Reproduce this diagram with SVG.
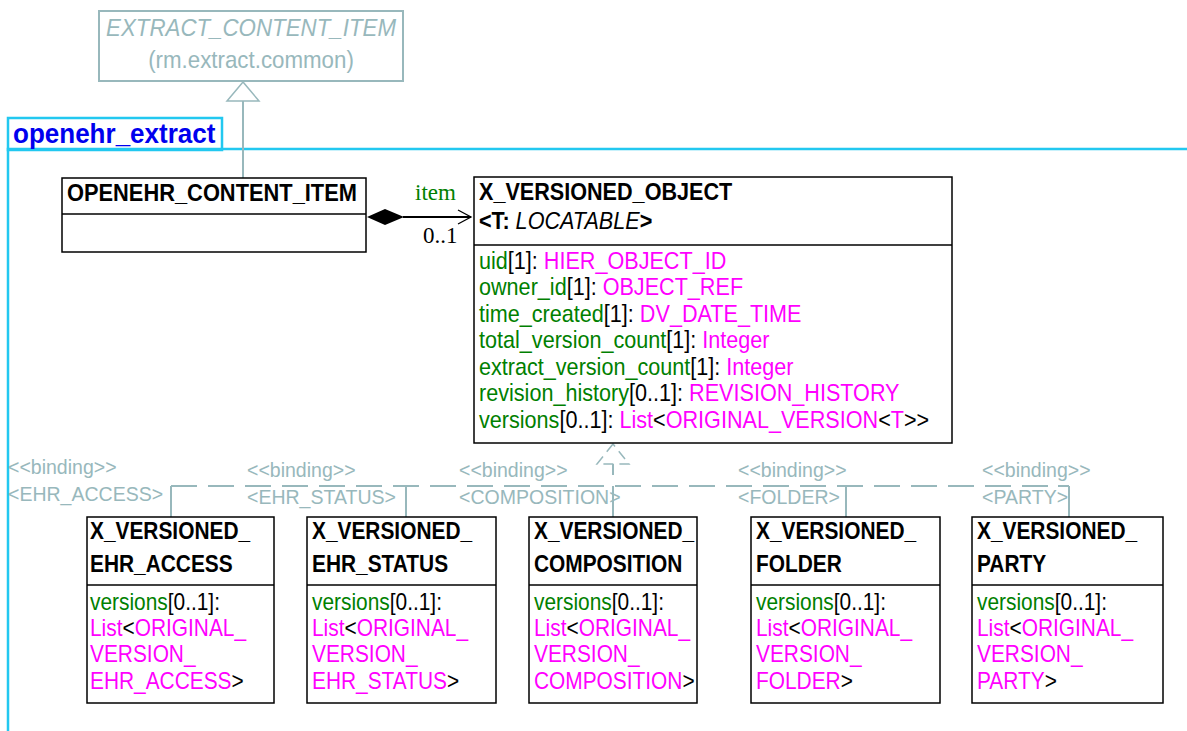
<svg xmlns="http://www.w3.org/2000/svg" width="1187" height="731" viewBox="0 0 1187 731">
<style>
.t{font-family:"Liberation Sans","Arial",sans-serif;}
.ttl{font-size:24px;font-weight:bold;fill:#000;}
.at{font-size:24px;fill:#000;}
.g{fill:#008000;}
.m{fill:#FF00FF;}
.box{fill:#fff;stroke:#000;stroke-width:1.5;}
.gray{fill:#98B8BC;}
.bind{font-size:21px;fill:#98B8BC;}
.dash{fill:none;stroke:#98B8BC;stroke-width:2;stroke-dasharray:26,11;}
.sol{fill:none;stroke:#98B8BC;stroke-width:2;}
.pkg{fill:none;stroke:#22C8F0;stroke-width:2.5;}
</style>

<g id="package">
  <rect class="pkg" x="8" y="118" width="214" height="32"/>
  <polyline class="pkg" points="1187,149 8,149 8,731"/>
  <g transform="translate(13,0) scale(0.93,1)">
    <text class="t" x="0" y="143" font-size="28" font-weight="bold" fill="#0000EE">openehr_extract</text>
  </g>
</g>

<g id="EXTRACT_CONTENT_ITEM">
  <rect x="99" y="11" width="304" height="70" fill="#fff" stroke="#98B8BC" stroke-width="2"/>
  <g transform="translate(251,0) scale(0.93,1)">
    <text class="t gray" x="0" y="36" font-size="24" font-style="italic" text-anchor="middle">EXTRACT_CONTENT_ITEM</text>
    <text class="t gray" x="0" y="68" font-size="24" text-anchor="middle">(rm.extract.common)</text>
  </g>
</g>

<g id="connectors">
  <!-- generalization -->
  <line class="sol" x1="243" y1="101" x2="243" y2="178"/>
  <polygon points="243,82 227,101 259,101" fill="#fff" stroke="#98B8BC" stroke-width="1.5"/>
  <!-- composition -->
  <line x1="403" y1="217" x2="471" y2="217" stroke="#000" stroke-width="2"/>
  <polygon points="367,217 385,209 404,217 385,225" fill="#000"/>
  <polyline points="458,210 471,217 458,224" fill="none" stroke="#000" stroke-width="1.3"/>
  <text x="415" y="200" font-family="Liberation Serif,serif" font-size="23" fill="#008000">item</text>
  <text x="423" y="243" font-family="Liberation Serif,serif" font-size="23" fill="#000">0..1</text>
  <!-- realization / binding -->
  <polygon points="613,444 597,464 629,464" fill="none" stroke="#98B8BC" stroke-width="1.5" stroke-dasharray="10,6"/>
  <line class="sol" x1="613" y1="464" x2="613" y2="475"/>
  <line class="dash" x1="171" y1="486" x2="1069" y2="486"/>
  <line class="sol" x1="171" y1="486" x2="171" y2="517"/>
  <line class="sol" x1="171" y1="486" x2="182" y2="486"/>
  <line class="sol" x1="406" y1="486" x2="406" y2="517"/>
  <line class="sol" x1="613" y1="486" x2="613" y2="517"/>
  <line class="sol" x1="846" y1="486" x2="846" y2="517"/>
  <line class="sol" x1="1069" y1="486" x2="1069" y2="517"/>
  <line class="sol" x1="1058" y1="486" x2="1069" y2="486"/>
  <g transform="translate(8,0) scale(0.93,1)">
    <text class="t bind" x="0" y="474">&lt;&lt;binding&gt;&gt;</text>
    <text class="t bind" x="0" y="501">&lt;EHR_ACCESS&gt;</text>
  </g>
  <g transform="translate(247,0) scale(0.93,1)">
    <text class="t bind" x="0" y="477">&lt;&lt;binding&gt;&gt;</text>
    <text class="t bind" x="0" y="504">&lt;EHR_STATUS&gt;</text>
  </g>
  <g transform="translate(459,0) scale(0.93,1)">
    <text class="t bind" x="0" y="477">&lt;&lt;binding&gt;&gt;</text>
    <text class="t bind" x="0" y="504">&lt;COMPOSITION&gt;</text>
  </g>
  <g transform="translate(738,0) scale(0.93,1)">
    <text class="t bind" x="0" y="477">&lt;&lt;binding&gt;&gt;</text>
    <text class="t bind" x="0" y="504">&lt;FOLDER&gt;</text>
  </g>
  <g transform="translate(982,0) scale(0.93,1)">
    <text class="t bind" x="0" y="477">&lt;&lt;binding&gt;&gt;</text>
    <text class="t bind" x="0" y="504">&lt;PARTY&gt;</text>
  </g>
</g>

<g id="OPENEHR_CONTENT_ITEM">
  <rect class="box" x="62" y="178" width="304" height="74"/>
  <line x1="62" y1="214" x2="366" y2="214" stroke="#000" stroke-width="1.5"/>
  <g transform="translate(67,0) scale(0.91,1)">
    <text class="t ttl" x="0" y="201">OPENEHR_CONTENT_ITEM</text>
  </g>
</g>

<g id="X_VERSIONED_OBJECT">
  <rect class="box" x="474" y="177" width="478" height="266"/>
  <line x1="474" y1="245" x2="952" y2="245" stroke="#000" stroke-width="1.5"/>
  <g transform="translate(479,0) scale(0.9,1)">
    <text class="t ttl" x="0" y="200">X_VERSIONED_OBJECT</text>
    <text class="t at" x="0" y="229"><tspan font-weight="bold">&lt;T:</tspan> <tspan font-style="italic">LOCATABLE</tspan><tspan font-weight="bold">&gt;</tspan></text>
    <text class="t at" x="0" y="269"><tspan class="g">uid</tspan>[1]: <tspan class="m">HIER_OBJECT_ID</tspan></text>
    <text class="t at" x="0" y="295"><tspan class="g">owner_id</tspan>[1]: <tspan class="m">OBJECT_REF</tspan></text>
    <text class="t at" x="0" y="322"><tspan class="g">time_created</tspan>[1]: <tspan class="m">DV_DATE_TIME</tspan></text>
    <text class="t at" x="0" y="348"><tspan class="g">total_version_count</tspan>[1]: <tspan class="m">Integer</tspan></text>
    <text class="t at" x="0" y="375"><tspan class="g">extract_version_count</tspan>[1]: <tspan class="m">Integer</tspan></text>
    <text class="t at" x="0" y="401"><tspan class="g">revision_history</tspan>[0..1]: <tspan class="m">REVISION_HISTORY</tspan></text>
    <text class="t at" x="0" y="428"><tspan class="g">versions</tspan>[0..1]: <tspan class="m">List</tspan>&lt;<tspan class="m">ORIGINAL_VERSION</tspan>&lt;<tspan class="m">T</tspan>&gt;&gt;</text>
  </g>
</g>

<g id="X_VERSIONED_EHR_ACCESS">
  <rect class="box" x="87" y="517" width="187" height="186"/>
  <line x1="87" y1="585" x2="274" y2="585" stroke="#000" stroke-width="1.5"/>
  <g transform="translate(90,0) scale(0.87,1)">
    <text class="t ttl" x="0" y="539">X_VERSIONED_</text>
    <text class="t ttl" x="0" y="572">EHR_ACCESS</text>
    <text class="t at" x="0" y="610"><tspan class="g">versions</tspan>[0..1]:</text>
    <text class="t at" x="0" y="636"><tspan class="m">List</tspan>&lt;<tspan class="m">ORIGINAL_</tspan></text>
    <text class="t at m" x="0" y="662">VERSION_</text>
    <text class="t at" x="0" y="689"><tspan class="m">EHR_ACCESS</tspan>&gt;</text>
  </g>
</g>

<g id="X_VERSIONED_EHR_STATUS">
  <rect class="box" x="307" y="517" width="189" height="186"/>
  <line x1="307" y1="585" x2="496" y2="585" stroke="#000" stroke-width="1.5"/>
  <g transform="translate(312,0) scale(0.87,1)">
    <text class="t ttl" x="0" y="539">X_VERSIONED_</text>
    <text class="t ttl" x="0" y="572">EHR_STATUS</text>
    <text class="t at" x="0" y="610"><tspan class="g">versions</tspan>[0..1]:</text>
    <text class="t at" x="0" y="636"><tspan class="m">List</tspan>&lt;<tspan class="m">ORIGINAL_</tspan></text>
    <text class="t at m" x="0" y="662">VERSION_</text>
    <text class="t at" x="0" y="689"><tspan class="m">EHR_STATUS</tspan>&gt;</text>
  </g>
</g>

<g id="X_VERSIONED_COMPOSITION">
  <rect class="box" x="529" y="517" width="168" height="186"/>
  <line x1="529" y1="585" x2="697" y2="585" stroke="#000" stroke-width="1.5"/>
  <g transform="translate(534,0) scale(0.87,1)">
    <text class="t ttl" x="0" y="539">X_VERSIONED_</text>
    <text class="t ttl" x="0" y="572">COMPOSITION</text>
    <text class="t at" x="0" y="610"><tspan class="g">versions</tspan>[0..1]:</text>
    <text class="t at" x="0" y="636"><tspan class="m">List</tspan>&lt;<tspan class="m">ORIGINAL_</tspan></text>
    <text class="t at m" x="0" y="662">VERSION_</text>
    <text class="t at" x="0" y="689"><tspan class="m">COMPOSITION</tspan>&gt;</text>
  </g>
</g>

<g id="X_VERSIONED_FOLDER">
  <rect class="box" x="751" y="517" width="189" height="186"/>
  <line x1="751" y1="585" x2="940" y2="585" stroke="#000" stroke-width="1.5"/>
  <g transform="translate(756,0) scale(0.87,1)">
    <text class="t ttl" x="0" y="539">X_VERSIONED_</text>
    <text class="t ttl" x="0" y="572">FOLDER</text>
    <text class="t at" x="0" y="610"><tspan class="g">versions</tspan>[0..1]:</text>
    <text class="t at" x="0" y="636"><tspan class="m">List</tspan>&lt;<tspan class="m">ORIGINAL_</tspan></text>
    <text class="t at m" x="0" y="662">VERSION_</text>
    <text class="t at" x="0" y="689"><tspan class="m">FOLDER</tspan>&gt;</text>
  </g>
</g>

<g id="X_VERSIONED_PARTY">
  <rect class="box" x="972" y="517" width="191" height="186"/>
  <line x1="972" y1="585" x2="1163" y2="585" stroke="#000" stroke-width="1.5"/>
  <g transform="translate(977,0) scale(0.87,1)">
    <text class="t ttl" x="0" y="539">X_VERSIONED_</text>
    <text class="t ttl" x="0" y="572">PARTY</text>
    <text class="t at" x="0" y="610"><tspan class="g">versions</tspan>[0..1]:</text>
    <text class="t at" x="0" y="636"><tspan class="m">List</tspan>&lt;<tspan class="m">ORIGINAL_</tspan></text>
    <text class="t at m" x="0" y="662">VERSION_</text>
    <text class="t at" x="0" y="689"><tspan class="m">PARTY</tspan>&gt;</text>
  </g>
</g>
</svg>
